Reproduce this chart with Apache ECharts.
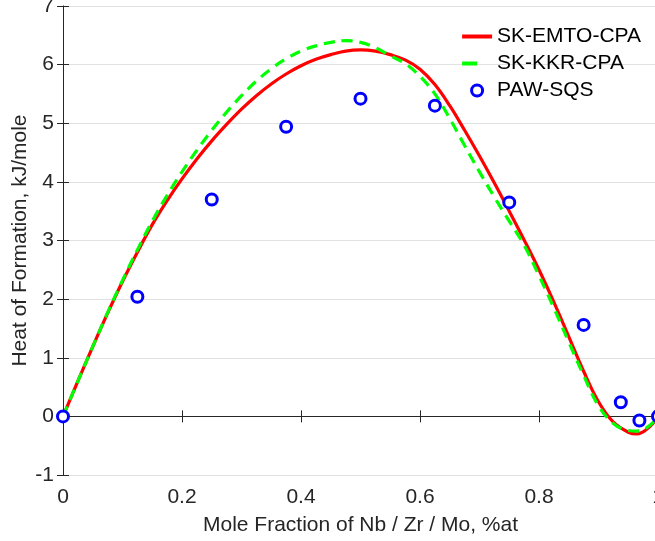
<!DOCTYPE html>
<html>
<head>
<meta charset="utf-8">
<script src="https://cdn.jsdelivr.net/npm/echarts@6/dist/echarts.min.js"></script>
<style>
html,body{margin:0;padding:0;background:#fff;overflow:hidden;}
#chart{width:655px;height:541px;}
</style>
</head>
<body>
<div id="chart"></div>
<script>
// ---- data ----
const curveX = [0,0.025,0.05,0.075,0.1,0.125,0.15,0.175,0.2,0.225,0.25,0.275,0.3,0.325,0.35,0.375,0.4,0.425,0.45,0.475,0.5,0.525,0.55,0.575,0.6,0.625,0.65,0.675,0.7,0.725,0.75,0.775,0.8,0.825,0.85,0.875,0.9,0.925,0.95,0.965,0.98,1.0];
const emtoCPA = [0,0.6,1.19,1.76,2.3,2.8,3.27,3.68,4.05,4.39,4.7,4.98,5.24,5.47,5.67,5.84,5.98,6.09,6.17,6.23,6.25,6.23,6.17,6.08,5.92,5.66,5.3,4.88,4.44,3.98,3.5,3.01,2.5,1.95,1.36,0.77,0.25,-0.1,-0.27,-0.3,-0.23,-0.02];
const kkrCPA = [0,0.6,1.19,1.77,2.32,2.84,3.33,3.77,4.17,4.54,4.88,5.19,5.47,5.72,5.93,6.1,6.23,6.32,6.38,6.41,6.38,6.29,6.15,6.02,5.8,5.5,5.08,4.62,4.17,3.74,3.33,2.92,2.4,1.85,1.27,0.7,0.18,-0.12,-0.24,-0.25,-0.2,-0.02];
const sqsX = [0,0.125,0.25,0.375,0.5,0.625,0.75,0.875,0.9375,0.96875,1.0];
const sqsY = [0,2.04,3.70,4.94,5.42,5.30,3.65,1.56,0.24,-0.07,0.0];
const seriesNames = ['SK-EMTO-CPA','SK-KKR-CPA','PAW-SQS'];
const xName = 'Mole Fraction of Nb / Zr / Mo, %at';
const yName = 'Heat of Formation, kJ/mole';

const pair = (xs, ys) => xs.map((x, i) => [x, ys[i]]);
const FONT = '"Liberation Sans", Arial, Helvetica, sans-serif';
const txt = '#262626';
const FS = 21;

const chart = echarts.init(document.getElementById('chart'), null, {renderer: 'canvas'});
chart.setOption({
  animation: false,
  backgroundColor: '#ffffff',
  grid: {left: 63, top: 6, right: -3, bottom: 66, containLabel: false, outerBoundsMode: 'none'},
  legend: {
    right: 9, top: 21, orient: 'vertical', itemWidth: 30, itemHeight: 11, itemGap: 6,
    textStyle: {fontFamily: FONT, fontSize: FS, color: '#000'},
    data: [
      {name: seriesNames[0], itemStyle: {opacity: 0}, lineStyle: {width: 4}},
      {name: seriesNames[1], itemStyle: {opacity: 0}, lineStyle: {width: 4, type: [15, 30]}},
      {name: seriesNames[2], icon: 'circle', itemStyle: {color: '#ffffff', borderColor: '#0000ff', borderWidth: 3}}
    ]
  },
  xAxis: [{
    type: 'value', min: 0, max: 1, interval: 0.2, position: 'bottom',
    name: xName, nameLocation: 'middle', nameGap: 40,
    nameTextStyle: {fontFamily: FONT, fontSize: FS, color: txt},
    axisLine: {show: true, lineStyle: {color: txt, width: 1}},
    axisTick: {show: true, inside: true, length: 6, lineStyle: {color: txt}},
    axisLabel: {fontFamily: FONT, fontSize: FS, color: txt, margin: 12,
      formatter: v => (Math.round(v*10)/10).toString()},
    splitLine: {show: false}
  }, {
    type: 'value', min: 0, max: 1, interval: 0.2, position: 'top',
    axisLine: {show: true, lineStyle: {color: txt, width: 1}},
    axisTick: {show: true, inside: true, length: 6, lineStyle: {color: txt}},
    axisLabel: {show: false}, splitLine: {show: false}
  }],
  yAxis: [{
    type: 'value', min: -1, max: 7, interval: 1, position: 'left',
    name: yName, nameLocation: 'middle', nameGap: 32, nameRotate: 90, nameMoveOverlap: false,
    nameTextStyle: {fontFamily: FONT, fontSize: FS, color: txt},
    axisLine: {show: true, lineStyle: {color: '#7f7f7f', width: 1}},
    axisTick: {show: true, inside: true, length: 6, lineStyle: {color: txt}},
    axisLabel: {fontFamily: FONT, fontSize: FS, color: txt, margin: 9},
    splitLine: {show: true, lineStyle: {color: '#e1e1e1', width: 1}}
  }, {
    type: 'value', min: -1, max: 7, interval: 1, position: 'right',
    axisLine: {show: true, lineStyle: {color: txt, width: 1}},
    axisTick: {show: true, inside: true, length: 6, lineStyle: {color: txt}},
    axisLabel: {show: false}, splitLine: {show: false}
  }],
  series: [{
    name: seriesNames[0], type: 'line', smooth: 0.4, symbol: 'none',
    data: pair(curveX, emtoCPA),
    lineStyle: {color: '#ff0000', width: 3.2},
    itemStyle: {color: '#ff0000'}, z: 2
  }, {
    name: seriesNames[1], type: 'line', smooth: 0.4, symbol: 'none',
    data: pair(curveX, kkrCPA),
    lineStyle: {color: '#00ff00', width: 3.2, type: [11, 7]},
    itemStyle: {color: '#00ff00'}, z: 3
  }, {
    name: seriesNames[2], type: 'scatter', symbol: 'circle', symbolSize: 11,
    data: pair(sqsX, sqsY),
    itemStyle: {color: '#ffffff', borderColor: '#0000ff', borderWidth: 3, opacity: 1},
    z: 4
  }]
});
</script>
</body>
</html>
